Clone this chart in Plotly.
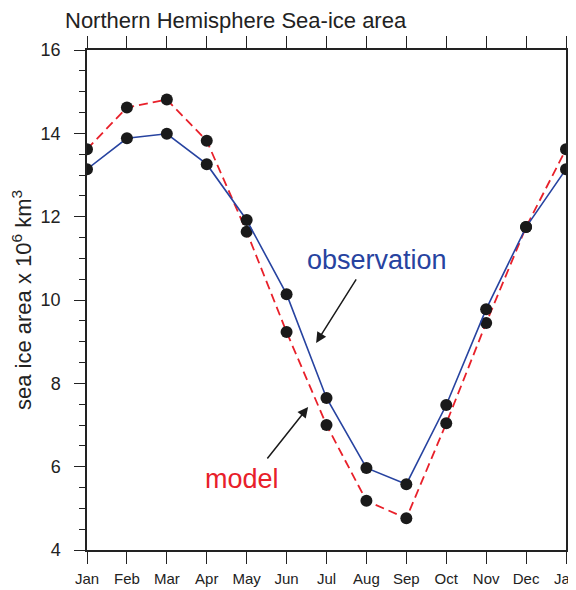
import plotly.graph_objects as go

months = ["Jan", "Feb", "Mar", "Apr", "May", "Jun", "Jul", "Aug", "Sep", "Oct", "Nov", "Dec", "Jan"]
month_pos = list(range(13))
observation = [13.14, 13.88, 13.99, 13.26, 11.92, 10.14, 7.65, 5.97, 5.58, 7.48, 9.78, 11.75, 13.14]
model = [13.62, 14.62, 14.81, 13.82, 11.64, 9.23, 7.00, 5.18, 4.76, 7.04, 9.45, 11.75, 13.62]
y_ticks = [4, 6, 8, 10, 12, 14, 16]

# the page body has an 8px margin, so the figure is sized to fill the rest
W, H = 568, 582

fig = go.Figure()
fig.add_trace(go.Scatter(
    x=month_pos, y=model, mode="lines+markers",
    line=dict(color="#e8202a", width=1.8, dash="9px,5px"),
    marker=dict(color="#1a1a1a", size=12),
    showlegend=False,
))
fig.add_trace(go.Scatter(
    x=month_pos, y=observation, mode="lines+markers",
    line=dict(color="#2743a0", width=1.6),
    marker=dict(color="#1a1a1a", size=12),
    showlegend=False,
))

axis_font = dict(family="Liberation Sans, Arial, sans-serif", color="#222222")

fig.update_layout(
    width=W, height=H,
    margin=dict(l=79, r=10, t=42, b=40),
    paper_bgcolor="white", plot_bgcolor="white",
    title=dict(
        text="Northern Hemisphere Sea-ice area",
        x=57 / W, xanchor="left", y=1 - 12 / H, yanchor="middle",
        font=dict(family="Liberation Sans, Arial, sans-serif", size=22, color="#222222"),
    ),
    xaxis=dict(
        range=[0, 12], tickvals=month_pos, ticktext=months,
        showgrid=False, zeroline=False, automargin=False,
        showline=True, linecolor="#222222", linewidth=1.5, mirror="ticks",
        ticks="outside", ticklen=12, tickwidth=1.3, tickcolor="#222222",
        ticklabeloverflow="allow", ticklabelstandoff=2,
        tickfont=dict(size=15, family="Liberation Sans Narrow, Arial Narrow, Liberation Sans, sans-serif", color="#222222"),
    ),
    yaxis=dict(
        range=[4, 16], tickvals=y_ticks,
        showgrid=False, zeroline=False, automargin=False,
        showline=True, linecolor="#222222", linewidth=1.5, mirror="ticks",
        ticks="outside", ticklen=11, tickwidth=1.3, tickcolor="#222222",
        tickfont=dict(size=18, **axis_font),
        ticklabelstandoff=10,
        minor=dict(dtick=0.5, ticks="outside", ticklen=6, tickwidth=1.3, tickcolor="#222222", showgrid=False),
        title=dict(text="sea ice area x 10<sup>6</sup> km<sup>3</sup>", font=dict(size=22, **axis_font), standoff=14),
    ),
    annotations=[
        dict(x=7.27, y=10.96, xref="x", yref="y", text="observation", showarrow=False,
             font=dict(size=27, color="#2743a0", family="Liberation Sans, Arial, sans-serif")),
        dict(x=3.88, y=5.70, xref="x", yref="y", text="model", showarrow=False,
             font=dict(size=27, color="#e8202a", family="Liberation Sans, Arial, sans-serif")),
        dict(x=5.74, y=8.97, xref="x", yref="y", ax=41, ay=-65, text="", showarrow=True,
             arrowhead=2, arrowsize=1.4, arrowwidth=1.5, arrowcolor="#1a1a1a"),
        dict(x=5.54, y=7.43, xref="x", yref="y", ax=-42, ay=53, text="", showarrow=True,
             arrowhead=2, arrowsize=1.4, arrowwidth=1.5, arrowcolor="#1a1a1a"),
    ],
)

fig.write_html("out.html")
